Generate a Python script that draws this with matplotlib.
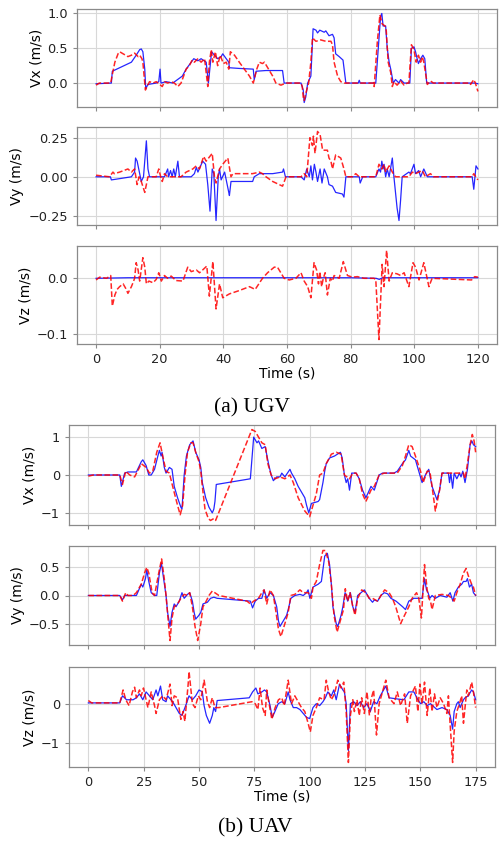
import numpy as np
import matplotlib
matplotlib.use("Agg")
import matplotlib.pyplot as plt

# ---------------- UGV data (time in s, velocity in m/s) ----------------
ugv_vx_ref_t = [0, 4.8, 5.1, 11.1, 12.6, 13.7, 14.2, 14.7, 15.3, 15.6, 16.3, 18.9, 19.7, 20.1, 20.4, 22, 24.1,
                27.1, 28.3, 29.9, 30.7, 32, 33, 34.6, 35.3, 36.3, 37.2, 38.2, 39.3, 39.8, 40.9, 41.7, 41.9, 45,
                49.4, 49.7, 50.3, 53.4, 58.6, 59.1, 64.4, 65.1, 65.4, 65.9, 66.5, 67.5, 68.2, 69.1, 69.6, 70.3,
                71.7, 72.2, 73.2, 74.3, 74.8, 75.3, 76.4, 77.6, 78.5, 82.4, 82.7, 83, 87.9, 89.4, 89.8, 90.2,
                91.0, 91.5, 92.1, 92.6, 93.4, 94.1, 95.2, 95.7, 96.8, 98.6, 99.1, 99.9, 100.4, 100.9, 101.3,
                102, 102.7, 103.3, 103.9, 119, 120]
ugv_vx_ref_v = [-0.01, 0.0, 0.17, 0.3, 0.4, 0.48, 0.49, 0.45, 0.2, -0.08, -0.02, 0.0, 0.02, 0.2, 0.0, 0.02, 0.0,
                0.1, 0.2, 0.3, 0.35, 0.32, 0.35, 0.3, 0.0, 0.45, 0.4, 0.35, 0.38, 0.42, 0.35, 0.3, 0.22, 0.21,
                0.2, 0.05, 0.17, 0.18, 0.18, 0.0, 0.0, -0.1, -0.28, -0.2, 0.0, 0.1, 0.78, 0.76, 0.72, 0.76,
                0.73, 0.75, 0.68, 0.7, 0.65, 0.42, 0.38, 0.33, 0.0, 0.0, 0.04, 0.0, 0.0, 0.95, 1.0, 0.82,
                0.82, 0.5, 0.3, 0.2, 0.0, 0.05, 0.0, 0.05, 0.0, 0.0, 0.5, 0.52, 0.45, 0.35, 0.28,
                0.35, 0.4, 0.35, 0.0, 0.0, -0.01]
ugv_vx_est_t = [0, 1.0, 4.6, 5.0, 5.9, 6.9, 7.4, 8.5, 10.0, 11.1, 12.1, 13.2, 13.7, 14.4, 14.7, 15.5, 16.0, 16.8,
                17.9, 18.9, 20.8, 21.5, 22.5, 23.6, 24.6, 25.7, 26.7, 28.3, 29.3, 30.2, 30.9, 32.0, 33.0, 34.1,
                35.1, 35.6, 36.2, 36.7, 37.5, 38.2, 39.0, 40.0, 40.9, 41.7, 42.2, 43.5, 45.0, 46.6, 48.2, 49.4,
                50.5, 51.3, 52.3, 52.9, 54.2, 55.5, 56.5, 58.1, 59.7, 64.4, 64.8, 65.1, 65.4, 65.9, 66.8, 67.5,
                68.0, 69.1, 70.6, 72.2, 73.8, 74.3, 74.8, 75.9, 76.9, 78.0, 87.3, 87.4, 88.4, 89.2, 89.9, 90.8,
                91.2, 91.8, 92.6, 93.1, 93.6, 94.6, 95.7, 96.8, 97.8, 98.3, 99.1, 99.9, 100.6, 101.3, 102.0,
                102.5, 103.0, 104.1, 105.1, 106.0, 117.5, 117.7, 118.7, 119.2, 120.0]
ugv_vx_est_v = [-0.03, 0.0, 0.0, 0.1, 0.3, 0.42, 0.45, 0.42, 0.38, 0.4, 0.43, 0.38, 0.4, 0.35, 0.3, -0.1, -0.05, 0.02,
                0.0, 0.02, -0.05, 0.02, 0.0, 0.02, 0.0, -0.05, 0.0, 0.2, 0.25, 0.33, 0.3, 0.35, 0.3, 0.35,
                -0.05, 0.3, 0.48, 0.3, 0.45, 0.25, 0.4, 0.28, 0.3, 0.2, 0.45, 0.4, 0.3, 0.2, 0.1, 0.0,
                0.2, 0.3, 0.28, 0.3, 0.2, 0.1, 0.0, -0.03, 0.0, 0.0, -0.05, -0.2, -0.25, -0.15, 0.0, 0.3,
                0.65, 0.6, 0.62, 0.6, 0.6, 0.55, 0.3, 0.1, 0.02, 0.0, 0.0, -0.05, 0.6, 0.98, 0.85, 0.82,
                0.75, 0.3, 0.15, -0.05, 0.02, -0.03, 0.03, -0.03, 0.0, 0.0, 0.55, 0.48, 0.3, 0.4, 0.3,
                0.38, 0.3, -0.02, 0.03, 0.0, 0.0, -0.02, 0.05, 0.0, -0.12]

ugv_vy_ref_t = [0, 4.5, 4.8, 8, 11.1, 12.1, 12.4, 12.9, 13.7, 14.2, 14.9, 15.8, 16.3, 16.8, 21.5, 22.5, 22.8, 23.4,
                23.9, 24.4, 24.9, 25.7, 26.2, 29.9, 30.9, 31.5, 32.0, 33.5, 34.4, 35.1, 35.8, 36.5, 37.0, 37.7,
                38.4, 38.8, 39.3, 40.4, 41.7, 41.9, 42.4, 49.2, 49.7, 51.3, 55.5, 58.6, 58.9, 59.5, 64.4, 65.4,
                66.2, 67.0, 67.5, 68.0, 68.6, 69.1, 69.6, 70.4, 71.0, 71.7, 72.7, 73.2, 74.3, 75.3, 77.4, 77.9,
                78.5, 82.7, 83.0, 83.8, 87.9, 88.9, 89.4, 89.8, 90.2, 90.5, 91.0, 91.5, 92.1, 93.1, 93.6, 94.1,
                94.6, 95.2, 95.7, 96.2, 98.3, 98.8, 99.9, 100.4, 101.4, 102.0, 103.0, 104.1, 118.2, 118.7,
                119.4, 120.0]
ugv_vy_ref_v = [0.0, 0.0, -0.02, -0.01, 0.0, 0.03, 0.12, 0.1, 0.02, -0.03, 0.0, 0.23, 0.05, 0.0, 0.0, 0.05, 0.0, 0.04,
                0.0, 0.05, 0.0, 0.1, 0.0, 0.0, 0.02, 0.06, 0.03, 0.1, 0.08, -0.05, -0.22, 0.05, 0.02, -0.28,
                0.0, 0.05, -0.02, 0.03, -0.1, -0.12, -0.03, -0.03, 0.0, 0.02, 0.02, 0.03, 0.05, 0.0, 0.0, -0.02,
                0.05, 0.0, 0.07, -0.02, 0.08, 0.03, -0.03, 0.05, -0.04, 0.05, 0.0, -0.05, -0.06, -0.1, -0.11, -0.13,
                0.0, 0.0, -0.04, 0.0, 0.0, 0.05, 0.03, 0.1, 0.05, 0.08, 0.0, 0.05, 0.0, 0.12, 0.0, -0.1,
                -0.2, -0.28, -0.15, 0.0, 0.03, 0.02, 0.08, 0.02, 0.04, 0.0, 0.05, 0.0, 0.0, -0.08,
                0.07, 0.05]
ugv_vy_est_t = [0, 4.2, 5.3, 5.7, 7.4, 10.0, 11.1, 12.1, 12.9, 13.5, 14.2, 15.3, 16.3, 18.9, 19.7, 20.3, 20.8,
                21.5, 22.5, 26.7, 28.3, 30.4, 31.5, 32.5, 33.8, 34.6, 36.5, 37.2, 37.7, 38.8, 39.8, 41.4, 42.4,
                43.0, 49.2, 51.3, 52.3, 53.4, 55.5, 58.6, 59.7, 64.4, 65.4, 66.2, 67.2, 68.0, 68.3, 68.8, 69.6,
                70.4, 71.2, 72.7, 73.2, 73.8, 74.3, 75.3, 76.9, 77.9, 78.5, 80.6, 81.6, 82.7, 87.9, 88.9, 89.8,
                90.5, 91.0, 92.1, 93.1, 94.1, 98.3, 99.4, 100.4, 102.5, 103.5, 105.1, 106.0, 118.2, 118.7, 120.0]
ugv_vy_est_v = [0.01, 0.0, 0.03, 0.02, 0.03, 0.05, 0.03, 0.05, -0.05, 0.0, -0.03, -0.1, 0.0, 0.0, 0.05, 0.0, -0.03,
                0.02, 0.0, 0.0, 0.03, 0.05, 0.07, 0.05, 0.13, 0.1, 0.15, 0.0, -0.04, 0.05, 0.08, 0.12, 0.0,
                0.02, 0.02, 0.03, 0.02, 0.0, -0.03, -0.06, 0.0, 0.0, 0.02, 0.0, 0.25, 0.2, 0.26, 0.15, 0.29,
                0.27, 0.17, 0.17, 0.12, 0.1, 0.05, 0.14, 0.12, 0.05, 0.0, 0.0, 0.02, 0.0, 0.0, 0.08, 0.05,
                0.08, 0.03, 0.07, 0.03, 0.0, 0.0, 0.03, 0.02, 0.04, 0.0, 0.02, 0.0, 0.0, 0.02, -0.02]

ugv_vz_ref_t = [0, 10, 50, 80, 88, 89, 90, 120]
ugv_vz_ref_v = [0.0, 0.001, 0.001, 0.001, 0.0, -0.002, 0.001, 0.001]
ugv_vz_est_t = [0, 1.1, 3.3, 4.6, 5.1, 5.9, 6.6, 7.4, 8.5, 9.5, 10.0, 11.1, 11.8, 12.1, 12.6, 13.2, 13.7, 14.7,
                15.3, 15.8, 16.6, 17.9, 18.9, 19.7, 20.5, 21.5, 22.5, 23.6, 25.1, 27.3, 28.8, 29.9, 31.5, 32.5,
                33.5, 34.8, 35.6, 36.7, 37.7, 38.8, 39.8, 41.9, 45.0, 48.2, 50.0, 52.3, 53.9, 56.0, 57.0, 59.1,
                60.7, 62.8, 64.4, 65.4, 66.5, 67.5, 68.5, 69.3, 69.9, 70.3, 70.9, 71.4, 72.0, 72.7, 73.6, 74.3,
                74.8, 76.4, 77.7, 79.0, 80.6, 82.1, 84.2, 87.3, 87.9, 88.9, 89.9, 90.5, 91.3, 92.1, 93.1, 94.6,
                95.7, 96.8, 98.3, 99.6, 100.4, 101.5, 103.0, 104.6, 105.6, 118.0, 119.0, 120.0]
ugv_vz_est_v = [-0.003, 0.002, 0.0, 0.005, -0.05, -0.03, -0.02, -0.015, -0.01, -0.02, -0.027, -0.015, -0.005, 0.0,
                0.028, 0.015, -0.005, 0.037, 0.02, -0.01, -0.005, -0.008, -0.002, 0.01, -0.005, 0.005, 0.0,
                0.004, -0.004, -0.005, 0.02, 0.012, 0.015, 0.01, 0.015, 0.022, -0.032, 0.03, -0.055, -0.01,
                -0.035, -0.028, -0.022, -0.015, -0.02, 0.0, 0.01, 0.02, 0.02, 0.0, -0.003, 0.0, 0.01, -0.005,
                -0.015, -0.035, 0.028, 0.015, -0.01, 0.012, -0.015, 0.0, 0.01, -0.03, 0.0, -0.005, 0.005, 0.0,
                0.03, 0.005, 0.002, 0.003, 0.0, 0.0, -0.002, -0.11, 0.025, -0.015, 0.05, -0.005, 0.01, 0.008,
                0.005, 0.01, -0.015, 0.028, 0.02, -0.003, 0.028, -0.015, 0.0, -0.003, 0.003, 0.002]

# ---------------- UAV data ----------------
uav_vx_ref_t = [0, 14.2, 14.9, 16.4, 17.9, 21.7, 23.9, 24.6, 26.1, 27.3, 28.4, 29.9, 31.4, 32.1, 32.9, 33.3, 34.3,
                35.1, 36.6, 37.8, 38.8, 40.3, 41.8, 42.3, 43.3, 44.3, 45.8, 47.3, 48.5, 50.0, 50.8, 51.5, 53.0,
                54.5, 55.5, 56.0, 56.7, 57.2, 57.8, 73.2, 74.7, 76.2, 76.9, 78.4, 79.9, 81.4, 82.6, 83.6, 85.1,
                86.6, 87.4, 88.8, 91.1, 91.8, 93.3, 94.8, 97.8, 98.6, 99.6, 100.8, 103.8, 104.5, 106.0, 106.8,
                107.5, 109.0, 111.2, 113.9, 114.7, 115.7, 116.5, 117.2, 118.0, 119.0, 121.0, 122.4, 123.9, 125.4,
                126.2, 127.7, 129.2, 131.4, 132.9, 138.1, 139.6, 141.9, 143.3, 144.8, 145.6, 147.8, 149.3, 150.8,
                152.3, 153.8, 155.3, 157.5, 158.7, 159.8, 162.7, 163.2, 163.8, 164.6, 165.3, 166.5, 167.7, 168.4,
                169.2, 170.2, 171.3, 172.5, 173.3, 174.0, 175.0]
uav_vx_ref_v = [0.0, 0.0, -0.3, 0.05, 0.08, 0.08, 0.35, 0.4, 0.25, 0.0, 0.0, 0.15, 0.5, 0.65, 0.5, 0.6, 0.2,
                0.05, 0.2, 0.15, -0.3, -0.6, -0.85, -0.9, 0.0, 0.5, 0.8, 0.9, 0.6, 0.4, 0.2, -0.2, -0.6,
                -0.85, -0.95, -1.0, -0.9, -0.7, -0.25, -0.1, 1.0, 0.85, 0.9, 0.7, 0.75, 0.3, 0.0, -0.15, -0.05,
                -0.05, 0.05, -0.05, 0.15, 0.05, -0.1, -0.3, -0.6, -0.8, -1.0, -0.75, -0.7, -0.65, -0.2, 0.1,
                0.3, 0.45, 0.5, 0.6, 0.45, 0.0, -0.2, -0.1, -0.4, 0.05, 0.05, -0.1, -0.4, -0.6,
                -0.5, -0.3, -0.4, 0.0, 0.05, 0.05, 0.1, 0.3, 0.4, 0.65, 0.5, 0.4, 0.1, -0.2,
                0.0, 0.15, -0.3, -0.65, -0.4, 0.05, 0.05, -0.2, 0.05, -0.35, 0.05, -0.1, 0.05, -0.05,
                0.1, -0.2, 0.15, 0.8, 0.9, 0.8, 0.75]
uav_vx_est_t = [0, 2.2, 14.2, 15.4, 16.9, 18.7, 20.9, 23.1, 23.9, 26.1, 27.6, 29.1, 30.9, 32.4, 33.6, 35.1, 36.6,
                38.1, 40.3, 41.5, 42.6, 43.7, 44.8, 46.3, 47.3, 48.5, 50.0, 50.8, 51.5, 52.7, 54.2, 55.2, 56.7,
                57.5, 73.9, 75.4, 76.9, 78.4, 79.9, 81.1, 82.6, 84.4, 86.6, 88.8, 91.1, 92.6, 94.8, 97.8, 100.0,
                103.0, 104.5, 106.0, 107.5, 109.8, 112.0, 114.2, 115.7, 118.0, 119.5, 121.0, 122.4, 123.9, 125.4,
                127.7, 129.2, 131.4, 133.7, 139.6, 141.9, 143.3, 144.8, 146.3, 147.8, 150.1, 151.3, 153.1, 154.3,
                155.3, 156.8, 158.7, 159.8, 169.5, 170.2, 171.3, 172.5, 173.5, 174.3, 175.0]
uav_vx_est_v = [-0.03, 0.0, 0.0, -0.25, 0.1, 0.0, -0.05, 0.2, 0.3, 0.2, 0.05, 0.1, 0.6, 0.85, 0.5, 0.1, 0.05,
                -0.3, -0.8, -1.05, -0.8, 0.0, 0.6, 0.85, 0.85, 0.6, 0.35, 0.1, -0.3, -0.9, -1.15, -1.2, -1.15,
                -1.2, 1.2, 1.15, 1.0, 0.85, 0.8, 0.3, 0.0, -0.1, -0.05, -0.1, 0.0, -0.2, -0.6, -0.95, -1.1,
                -0.5, 0.0, 0.05, 0.3, 0.55, 0.6, 0.55, 0.0, -0.1, 0.05, 0.05, -0.1, -0.5, -0.7,
                -0.4, -0.3, 0.0, 0.05, 0.05, 0.25, 0.5, 0.8, 0.75, 0.5, 0.1, -0.2, 0.1, 0.1,
                -0.3, -0.95, -0.4, 0.05, 0.05, -0.1, 0.3, 0.8, 1.07, 0.9, 0.6]

uav_vy_ref_t = [0, 14.2, 15.4, 16.4, 21.7, 23.9, 24.6, 25.8, 26.4, 27.3, 28.4, 29.9, 30.9, 32.1, 33.0, 34.0, 35.1,
                35.8, 36.9, 37.8, 38.8, 39.6, 41.1, 42.3, 43.3, 44.8, 45.8, 47.0, 47.8, 48.5, 50.0, 50.8, 51.8,
                53.8, 55.2, 56.7, 58.2, 73.2, 74.2, 75.4, 76.9, 78.4, 79.4, 80.6, 82.1, 83.6, 85.1, 85.9, 86.6,
                88.1, 89.6, 90.3, 91.5, 93.3, 95.6, 97.1, 98.6, 99.3, 100.1, 101.5, 103.8, 105.3, 106.8, 108.0,
                109.0, 109.8, 110.5, 112.0, 112.7, 114.2, 115.0, 116.0, 117.2, 118.4, 119.5, 120.5, 121.7, 123.2,
                124.7, 126.2, 126.9, 128.4, 129.2, 130.7, 132.2, 133.7, 135.2, 136.7, 139.0, 140.5, 142.0, 143.3,
                144.8, 147.1, 150.8, 151.9, 152.8, 153.5, 154.3, 155.3, 156.8, 159.0, 162.0, 163.5, 164.7, 165.7,
                167.2, 168.7, 169.5, 170.7, 171.3, 172.2, 173.2, 174.0, 175.0]
uav_vy_ref_v = [0.0, 0.0, -0.08, 0.0, 0.0, 0.2, 0.15, 0.3, 0.45, 0.25, 0.05, 0.0, 0.0, 0.4, 0.58, 0.3, 0.0,
                -0.3, -0.55, -0.3, -0.15, -0.2, -0.1, 0.05, -0.05, 0.02, 0.05, -0.1, -0.3, -0.42, -0.35, -0.3, -0.15,
                -0.12, -0.05, -0.03, -0.05, -0.1, -0.22, -0.1, -0.05, -0.05, 0.1, -0.05, 0.05, 0.0, -0.2, -0.45, -0.55,
                -0.45, -0.35, -0.25, -0.05, 0.0, 0.02, 0.0, 0.05, 0.1, -0.05, 0.15, 0.2, 0.25, 0.7, 0.75,
                0.55, 0.2, -0.2, -0.5, -0.55, -0.35, -0.2, 0.05, -0.1, 0.05, -0.2, -0.3, 0.0, 0.05,
                0.1, 0.0, -0.05, -0.12, -0.08, -0.1, 0.0, 0.05, 0.03, -0.05, -0.1, -0.15, -0.2, -0.25,
                -0.1, -0.05, -0.05, 0.3, 0.1, 0.05, -0.05, 0.0, -0.05, 0.0, -0.03, 0.05, -0.1, 0.05,
                0.15, 0.2, 0.25, 0.25, 0.3, 0.15, 0.2, 0.05, 0.0]
uav_vy_est_t = [0, 14.2, 15.4, 16.9, 17.9, 20.2, 21.7, 23.9, 25.4, 26.4, 27.3, 28.8, 29.9, 31.8, 33.1, 34.3, 35.1,
                36.2, 36.9, 37.8, 38.8, 40.3, 41.8, 43.3, 44.8, 45.8, 47.0, 48.2, 49.4, 50.8, 51.8, 53.0, 54.5,
                56.0, 59.0, 71.7, 73.2, 74.7, 76.9, 78.4, 79.4, 80.6, 82.1, 83.6, 84.8, 85.9, 87.0, 88.8, 90.3,
                91.5, 93.3, 95.6, 97.1, 99.3, 100.8, 101.5, 103.0, 104.5, 106.0, 107.1, 108.6, 109.8, 111.0, 112.4,
                114.2, 115.3, 116.1, 117.2, 118.2, 119.5, 120.5, 121.7, 123.5, 125.4, 126.9, 128.4, 130.7, 132.2,
                133.9, 135.9, 137.4, 138.9, 141.1, 142.9, 144.8, 146.3, 148.3, 149.3, 150.5, 151.9, 153.1, 153.8,
                154.6, 155.3, 156.8, 159.8, 162.7, 164.2, 165.3, 166.5, 168.0, 169.5, 170.7, 171.7, 173.2, 174.0,
                175.0]
uav_vy_est_v = [0.0, 0.0, -0.1, 0.05, 0.0, 0.0, 0.05, 0.2, 0.4, 0.5, 0.4, 0.05, 0.0, 0.4, 0.65, 0.3, 0.0,
                -0.5, -0.8, -0.4, -0.2, -0.15, -0.05, 0.02, 0.0, 0.05, -0.2, -0.55, -0.8, -0.5, -0.2, -0.12, 0.0,
                0.08, 0.0, -0.1, -0.15, -0.1, -0.05, 0.05, 0.1, -0.15, 0.1, 0.0, -0.3, -0.6, -0.73, -0.5, -0.3,
                0.0, 0.02, 0.1, 0.05, 0.05, -0.05, 0.15, 0.25, 0.55, 0.8, 0.8, 0.6, 0.2, -0.35, -0.65,
                -0.4, -0.25, 0.12, -0.1, 0.05, -0.2, -0.35, -0.05, 0.1, 0.05, -0.05, -0.05, -0.1, 0.0,
                0.1, 0.05, -0.05, -0.2, -0.5, -0.35, -0.2, -0.05, 0.05, -0.05, -0.4, 0.55, 0.1, -0.05,
                -0.1, -0.25, 0.0, 0.02, 0.0, -0.05, -0.1, 0.05, 0.2, 0.4, 0.48, 0.35, 0.2, 0.15,
                0.0]

uav_vz_ref_t = [0, 14.2, 15.4, 16.4, 17.2, 20.2, 21.7, 23.1, 24.6, 26.1, 27.6, 29.1, 30.6, 31.4, 32.6, 33.6, 35.1,
                35.8, 37.3, 38.1, 39.6, 41.1, 42.3, 43.3, 44.3, 45.5, 47.0, 48.5, 50.0, 51.5, 52.3, 53.3, 54.8,
                56.0, 56.7, 57.5, 58.2, 72.7, 74.2, 75.7, 76.6, 78.4, 79.6, 80.6, 82.1, 83.1, 84.3, 85.8, 87.4,
                88.8, 90.3, 91.1, 92.6, 94.1, 95.6, 97.1, 98.6, 100.0, 101.5, 103.0, 104.5, 106.0, 107.1, 108.2,
                109.8, 110.9, 112.0, 113.5, 115.0, 115.7, 116.5, 117.5, 118.4, 119.9, 121.4, 122.9, 124.4, 125.9,
                127.4, 128.9, 130.4, 131.9, 134.4, 135.9, 139.6, 142.6, 144.8, 147.1, 148.9, 150.1, 151.6, 153.1,
                154.6, 157.5, 159.8, 162.0, 163.5, 164.6, 165.3, 166.5, 167.2, 168.0, 169.5, 170.2, 171.7, 173.2,
                174.0, 175.0]
uav_vz_ref_v = [0.02, 0.02, 0.2, 0.15, 0.1, 0.1, 0.15, 0.25, 0.1, 0.3, 0.2, 0.1, 0.35, 0.2, 0.45, 0.1, 0.05,
                0.2, 0.1, 0.05, -0.1, -0.25, -0.3, -0.15, 0.0, 0.2, 0.1, 0.2, 0.35, 0.3, -0.05, -0.3, -0.5,
                -0.3, -0.1, -0.2, 0.08, 0.15, 0.3, 0.4, 0.25, 0.3, 0.35, 0.3, -0.05, -0.35, -0.2, 0.0, 0.05,
                0.0, 0.3, 0.1, -0.1, -0.1, -0.15, -0.25, -0.35, -0.38, -0.1, 0.0, -0.05, 0.05, 0.15, 0.3,
                0.2, 0.35, 0.1, 0.5, 0.35, 0.3, 0.0, -1.2, 0.0, 0.05, -0.05, 0.05, -0.1, 0.0,
                -0.2, 0.05, 0.0, 0.2, 0.45, 0.15, 0.12, 0.1, 0.3, 0.3, 0.1, 0.0, 0.05, -0.05,
                0.0, -0.15, -0.1, -0.15, -0.3, -0.65, -0.2, 0.0, 0.05, -0.1, 0.1, 0.15, 0.2, 0.35,
                0.3, 0.1]
uav_vz_est_t = [0, 1.5, 14.2, 15.7, 16.9, 18.4, 19.9, 20.9, 21.7, 23.1, 23.9, 24.9, 26.9, 28.4, 29.9, 30.6, 32.1,
                33.6, 35.1, 36.9, 37.8, 38.8, 40.3, 41.1, 41.8, 42.8, 43.6, 44.3, 45.1, 45.5, 47.0, 48.2, 49.7,
                50.8, 52.3, 53.8, 54.8, 56.0, 57.2, 59.0, 73.9, 75.4, 76.6, 77.6, 78.7, 79.9, 80.6, 82.9, 84.4,
                85.9, 87.4, 88.5, 90.3, 91.8, 93.3, 94.8, 96.3, 97.8, 99.3, 100.3, 101.5, 103.0, 104.5, 106.5,
                107.5, 108.6, 109.8, 111.2, 112.7, 114.2, 115.4, 116.5, 117.5, 118.4, 119.5, 120.2, 121.4, 122.4,
                123.5, 124.7, 125.9, 127.0, 127.7, 128.9, 130.2, 131.4, 132.9, 134.4, 135.9, 138.1, 139.6, 141.1,
                142.9, 144.1, 145.6, 147.8, 148.9, 149.8, 150.8, 151.9, 153.1, 154.3, 155.3, 156.4, 157.5, 159.0,
                160.5, 162.0, 162.7, 163.5, 164.6, 165.3, 166.5, 167.7, 168.7, 169.5, 171.0, 171.7, 173.2, 174.0,
                175.0]
uav_vz_est_v = [0.08, 0.02, 0.02, 0.35, 0.1, -0.05, 0.3, 0.42, 0.15, 0.35, 0.2, 0.4, -0.1, 0.3, -0.05, -0.25, 0.1,
                0.2, 0.1, 0.5, -0.05, 0.2, 0.15, -0.15, -0.4, -0.2, -0.45, 0.0, 0.5, 0.82, 0.0, -0.1, 0.2,
                0.1, 0.6, 0.05, -0.1, 0.15, -0.1, -0.1, 0.05, 0.0, -0.15, 0.4, -0.1, -0.3, 0.35, -0.4, -0.1,
                0.1, 0.15, -0.05, 0.6, 0.0, 0.2, 0.05, -0.1, -0.2, -0.5, -0.72, -0.3, -0.1, 0.15, 0.1,
                0.6, 0.3, 0.1, 0.25, 0.6, 0.4, 0.55, -0.2, -1.5, -0.3, 0.1, -0.2, 0.1, -0.3,
                0.15, -0.25, 0.3, -0.3, 0.1, 0.35, -0.8, 0.0, 0.3, 0.6, 0.15, 0.0, 0.3, -0.05,
                0.25, -0.5, 0.2, 0.45, -0.2, 0.5, 0.0, 0.55, -0.3, 0.4, -0.2, 0.25, -0.1, 0.15,
                0.0, -0.25, 0.2, -0.55, -1.5, -0.7, -0.2, 0.0, 0.2, -0.5, 0.35, 0.2, 0.55, 0.3,
                -0.1]

ugv_xticks = [0, 20, 40, 60, 80, 100, 120]
uav_xticks = [0, 25, 50, 75, 100, 125, 150, 175]
ugv_yticks = [[0.0, 0.5, 1.0], [-0.25, 0.0, 0.25], [-0.1, 0.0]]
uav_yticks = [[-1, 0, 1], [-0.5, 0.0, 0.5], [-1, 0]]
ylabels = ["Vx (m/s)", "Vy (m/s)", "Vz (m/s)"]

ugv_series = [(ugv_vx_ref_t, ugv_vx_ref_v, ugv_vx_est_t, ugv_vx_est_v),
              (ugv_vy_ref_t, ugv_vy_ref_v, ugv_vy_est_t, ugv_vy_est_v),
              (ugv_vz_ref_t, ugv_vz_ref_v, ugv_vz_est_t, ugv_vz_est_v)]
uav_series = [(uav_vx_ref_t, uav_vx_ref_v, uav_vx_est_t, uav_vx_est_v),
              (uav_vy_ref_t, uav_vy_ref_v, uav_vy_est_t, uav_vy_est_v),
              (uav_vz_ref_t, uav_vz_ref_v, uav_vz_est_t, uav_vz_est_v)]

fig = plt.figure(figsize=(5.01, 8.44), dpi=100)
H = 844.0
W = 501.0

# axes boxes in pixels: (left, top, right, bottom)
ugv_boxes = [(77, 9, 497, 107), (77, 127, 497, 225), (77, 246, 497, 344)]
uav_boxes = [(69, 425, 495, 525), (69, 546, 495, 645), (69, 667, 495, 767)]


def style_axis(ax, yt, label, xt, show_x):
    ax.set_xticks(xt)
    ax.set_yticks(yt)
    ax.grid(True, color="#d8d8d8", linewidth=0.8)
    ax.set_axisbelow(True)
    for sp in ax.spines.values():
        sp.set_color("#8a8a8a")
        sp.set_linewidth(0.9)
    ax.tick_params(labelsize=9.3, colors="#222222", length=3, width=0.8)
    ax.tick_params(axis="both", color="#8a8a8a")
    ax.set_ylabel(label, fontsize=10, labelpad=3)
    if not show_x:
        ax.tick_params(axis="x", labelbottom=False)
    else:
        ax.set_xlabel("Time (s)", fontsize=10, labelpad=0)


def draw_group(boxes, series, yticks, xticks):
    for i, (box, s) in enumerate(zip(boxes, series)):
        l, t, r, b = box
        ax = fig.add_axes([l / W, (H - b) / H, (r - l) / W, (b - t) / H])
        ax.plot(s[0], s[1], color="blue", linewidth=0.9, alpha=0.85)
        ax.plot(s[2], s[3], color="red", linestyle="--", linewidth=1.1, alpha=0.85)
        style_axis(ax, yticks[i], ylabels[i], xticks, i == 2)


draw_group(ugv_boxes, ugv_series, ugv_yticks, ugv_xticks)
draw_group(uav_boxes, uav_series, uav_yticks, uav_xticks)

fig.text(252 / W, 1 - 408 / H, "(a) UGV", ha="center", va="center",
         family="Liberation Serif", fontsize=15.5)
fig.text(255 / W, 1 - 828 / H, "(b) UAV", ha="center", va="center",
         family="Liberation Serif", fontsize=15.5)

fig.savefig("out.png", dpi=100)
